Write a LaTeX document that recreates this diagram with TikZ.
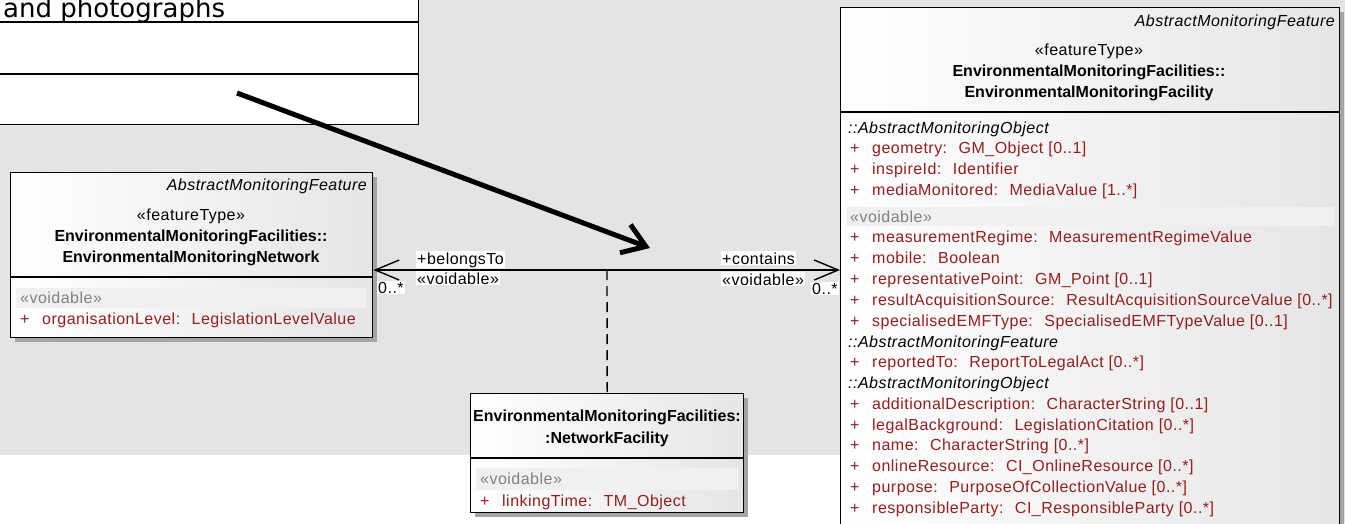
\documentclass[tikz,border=0pt]{standalone}
\usepackage{fontspec}
\setmainfont{Liberation Sans}
\newfontfamily\umlreg[LetterSpace=3]{Liberation Sans}
\newfontfamily\verdana{DejaVu Sans}
\usetikzlibrary{arrows.meta,shadows}

\definecolor{bggray}{RGB}{228,228,228}
\definecolor{attrred}{RGB}{150,30,30}
\definecolor{voidgray}{RGB}{130,130,130}
\definecolor{voidrow}{RGB}{240,240,240}
\definecolor{shadowgray}{RGB}{165,165,165}

\newcommand{\umlfont}{\umlreg\fontsize{16}{18}\selectfont}
\newcommand{\plusmark}{\makebox[22pt][l]{+}}

\tikzset{
  umlbox/.style={draw=black, line width=1.4pt, left color=white, right color=black!10,
    inner sep=0pt, drop shadow={shadow xshift=4pt, shadow yshift=-4pt, fill=shadowgray, opacity=1}},
  plainbox/.style={draw=black, line width=1.2pt, fill=white, inner sep=0pt},
  divider/.style={line width=1.4pt},
  txt/.style={inner sep=0pt, font=\umlfont},
  ttl/.style={inner sep=0pt, font=\fontsize{16}{18}\selectfont\bfseries},
  absname/.style={inner sep=0pt, font=\umlfont\itshape, anchor=base east},
  grpname/.style={inner sep=0pt, font=\umlfont\itshape, anchor=base west},
  attr/.style={inner sep=0pt, font=\umlfont, text=attrred, anchor=base west},
  voidtxt/.style={inner sep=0pt, font=\umlfont, text=voidgray, anchor=base west},
  rolelbl/.style={fill=white, inner sep=1pt, font=\umlfont, anchor=base west},
  assoc/.style={line width=1.4pt, -{Straight Barb[length=24pt,width=20pt]}},
  dep/.style={line width=1.4pt, dash pattern=on 10pt off 6pt},
  bigarrow/.style={line width=5pt, -{Straight Barb[length=22pt,width=30pt]}}
}

\begin{document}
\begin{tikzpicture}[x=1pt,y=-1pt]
\useasboundingbox (0,0) rectangle (1345,523);
\clip (0,0) rectangle (1345,523);
\fill[bggray] (0,0) rectangle (1345,455);
\fill[bggray] (1339,455) rectangle (1345,523);

% class cut off at top left
\node[plainbox, minimum width=440pt, minimum height=145pt, anchor=south east] (media) at (419,125) {};
\draw[line width=1.2pt] (media.west |- 0,22) -- (media.east |- 0,22);
\draw[line width=1.2pt] (media.west |- 0,74) -- (media.east |- 0,74);
\node[anchor=base west, inner sep=0pt, font=\verdana\fontsize{26}{30}\selectfont] (mediatxt) at (3,17) {and photographs};

% network class
\node[umlbox, minimum width=362pt, minimum height=165pt, anchor=north west] (network) at (10,172) {};
\draw[divider] (network.west |- 0,277) -- (network.east |- 0,277);
\node[absname] (netabs) at (367,190) {AbstractMonitoringFeature};
\node[txt, anchor=base] (netst) at (191,220) {«featureType»};
\node[ttl, anchor=base] (netpk) at (191,241) {EnvironmentalMonitoringFacilities::};
\node[ttl, anchor=base] (netnm) at (191,262) {EnvironmentalMonitoringNetwork};
\fill[voidrow] (16,288) rectangle (366,308);
\node[voidtxt] (netvoid) at (20,303) {«voidable»};
\node[attr] (orglvl) at (20,324) {\plusmark organisationLevel:~ LegislationLevelValue};

% facility class
\node[umlbox, minimum width=499pt, minimum height=540pt, anchor=north west] (facility) at (840,7) {};
\draw[divider] (facility.west |- 0,112) -- (facility.east |- 0,112);
\node[absname] (facabs) at (1335,26) {AbstractMonitoringFeature};
\node[txt, anchor=base] (facst) at (1089,55) {«featureType»};
\node[ttl, anchor=base] (facpk) at (1089,76) {EnvironmentalMonitoringFacilities::};
\node[ttl, anchor=base] (facnm) at (1089,97) {EnvironmentalMonitoringFacility};
\node[grpname] (grpobj) at (848,133) {::AbstractMonitoringObject};
\node[attr] (geom) at (850,153) {\plusmark geometry:~ GM\_Object [0..1]};
\node[attr] (inspid) at (850,174) {\plusmark inspireId:~ Identifier};
\node[attr] (medmon) at (850,195) {\plusmark mediaMonitored:~ MediaValue [1..*]};
\fill[voidrow] (846,207) rectangle (1334,226);
\node[voidtxt] (facvoid) at (850,222) {«voidable»};
\node[attr] (regime) at (850,242) {\plusmark measurementRegime:~ MeasurementRegimeValue};
\node[attr] (mobile) at (850,263) {\plusmark mobile:~ Boolean};
\node[attr] (reppt) at (850,284) {\plusmark representativePoint:~ GM\_Point [0..1]};
\node[attr] (resacq) at (850,305) {\plusmark resultAcquisitionSource:~ ResultAcquisitionSourceValue [0..*]};
\node[attr] (emftype) at (850,326) {\plusmark specialisedEMFType:~ SpecialisedEMFTypeValue [0..1]};
\node[grpname] (grpfeat) at (848,347) {::AbstractMonitoringFeature};
\node[attr] (reported) at (850,367) {\plusmark reportedTo:~ ReportToLegalAct [0..*]};
\node[grpname] (grpobjb) at (848,388) {::AbstractMonitoringObject};
\node[attr] (adddesc) at (850,409) {\plusmark additionalDescription:~ CharacterString [0..1]};
\node[attr] (legal) at (850,430) {\plusmark legalBackground:~ LegislationCitation [0..*]};
\node[attr] (fname) at (850,450) {\plusmark name:~ CharacterString [0..*]};
\node[attr] (online) at (850,471) {\plusmark onlineResource:~ CI\_OnlineResource [0..*]};
\node[attr] (purpose) at (850,492) {\plusmark purpose:~ PurposeOfCollectionValue [0..*]};
\node[attr] (resp) at (850,513) {\plusmark responsibleParty:~ CI\_ResponsibleParty [0..*]};

% association class
\node[umlbox, minimum width=273pt, minimum height=119pt, anchor=north west] (netfac) at (470,393) {};
\draw[divider] (netfac.west |- 0,458) -- (netfac.east |- 0,458);
\node[ttl, anchor=base] (nfpk) at (607,421) {EnvironmentalMonitoringFacilities:};
\node[ttl, anchor=base] (nfnm) at (607,443) {:NetworkFacility};
\fill[voidrow] (476,468) rectangle (738,490);
\node[voidtxt] (nfvoid) at (480,484) {«voidable»};
\node[attr] (linktime) at (480,506) {\plusmark linkingTime:~ TM\_Object};

% association
\coordinate (mid) at (607,270);
\draw[assoc] (mid) -- (network.east |- mid);
\draw[assoc] (mid) -- (facility.west |- mid);
\draw[dep] (mid) -- (netfac.north);
\node[rolelbl] (belongs) at (416,264) {+belongsTo};
\node[rolelbl] (belvoid) at (416,284) {«voidable»};
\node[rolelbl] (belmult) at (377,293) {0..*};
\node[rolelbl] (contains) at (721,264) {+contains};
\node[rolelbl] (convoid) at (721,285) {«voidable»};
\node[rolelbl] (conmult) at (811,294) {0..*};

% big pointer
\coordinate (arrS) at (237,93);
\coordinate (arrE) at (650,248);
\draw[bigarrow] (arrS) -- (arrE);
\end{tikzpicture}
\end{document}
